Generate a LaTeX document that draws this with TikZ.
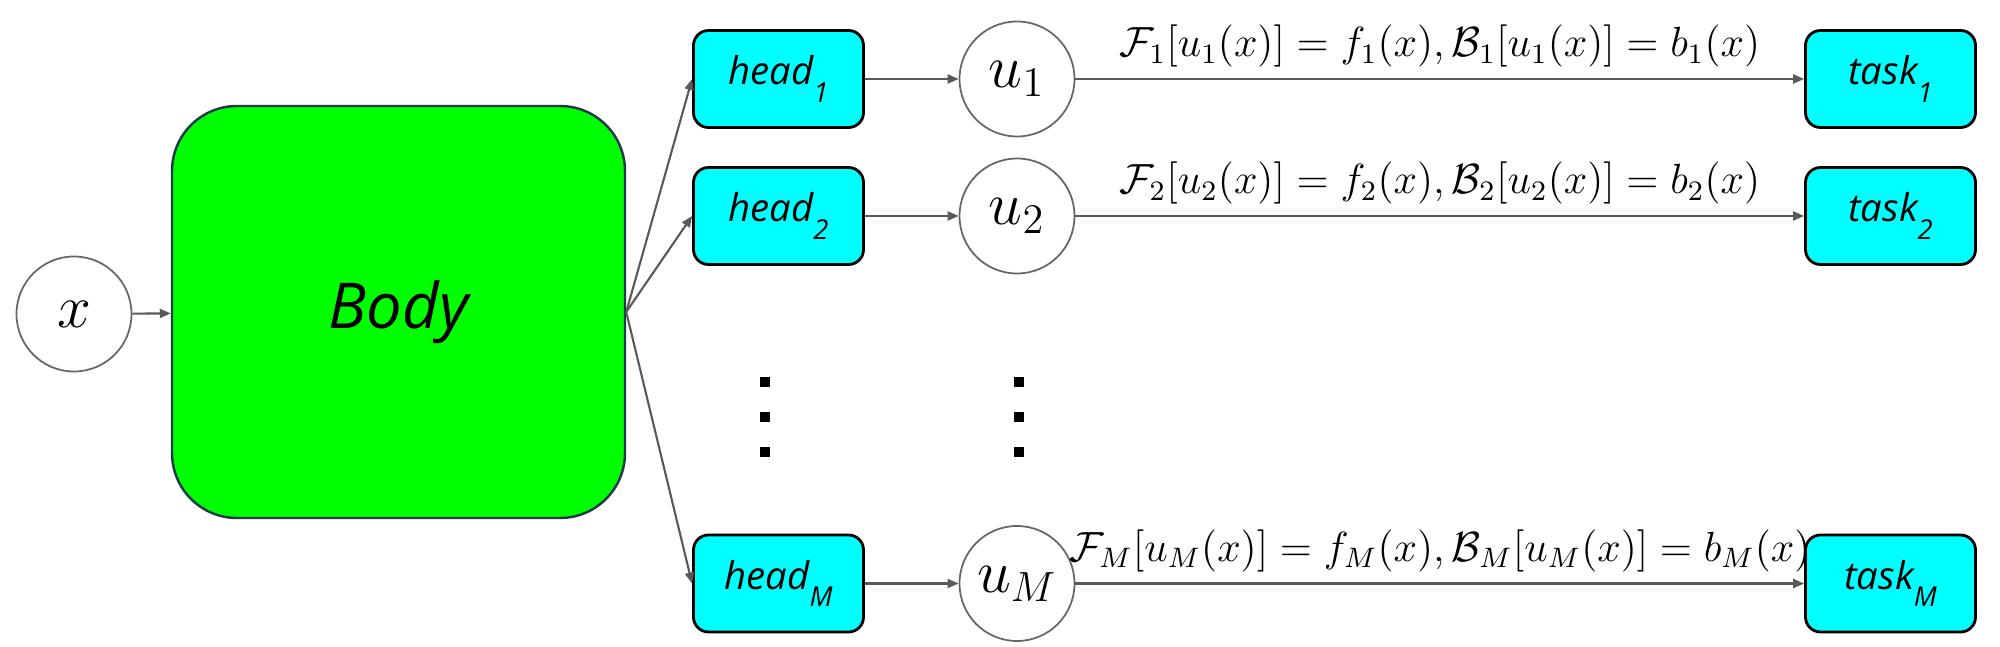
\documentclass[tikz,border=0pt]{standalone}
\usepackage{fontspec}
\setsansfont{Open Sans}
\usepackage{tikz}
\usetikzlibrary{positioning,arrows.meta}
\definecolor{bodygreen}{HTML}{00FF00}
\definecolor{headcyan}{HTML}{00FFFF}
\definecolor{bodyline}{HTML}{1F3A4D}
\definecolor{arrgray}{HTML}{595959}
\newcommand{\lowidx}[1]{\raisebox{-0.45em}{\fontsize{7.8}{9}\selectfont #1}}

\begin{document}
\begin{tikzpicture}[
  var/.style={circle, draw=black!60, line width=0.5pt, minimum size=1.15cm, inner sep=0pt, font=\fontsize{17}{20}\selectfont},
  blk/.style={draw=black, line width=0.8pt, rounded corners=0.15cm, fill=headcyan, minimum width=1.7cm, minimum height=0.97cm, font=\sffamily\itshape\fontsize{10.9}{12}\selectfont},
  arr/.style={-{Triangle[length=0.11cm,width=0.09cm]}, line width=0.6pt, arrgray},
  eq/.style={font=\fontsize{11.7}{14}\selectfont, text=black, inner sep=2pt, yshift=1pt}]
\useasboundingbox (0,0) rectangle (20,-6.47);
\node[var] (xin) at (0.74,-3.14) {$x$};
\node[draw=bodyline, line width=0.7pt, fill=bodygreen, rounded corners=0.65cm, minimum width=4.53cm, minimum height=4.12cm,
  font=\sffamily\itshape\fontsize{18}{21}\selectfont] (body) at (3.985,-3.12) {Body};
\draw[arr] (xin) -- (body);
% heads
\node[blk] (head1) at (7.785,-0.79) {head\lowidx{1}};
\node[blk] (head2) at (7.785,-2.16) {head\lowidx{2}};
\node[blk] (headM) at (7.785,-5.835) {head\lowidx{M}};
\draw[arr] (body.east) -- (head1.west);
\draw[arr] (body.east) -- (head2.west);
\draw[arr] (body.east) -- (headM.west);
% outputs
\node[var] (u1) at (10.17,-0.79) {$u_1$};
\node[var] (u2) at (10.17,-2.16) {$u_2$};
\node[var] (uM) at (10.17,-5.835) {$u_M$};
\draw[arr] (head1) -- (u1);
\draw[arr] (head2) -- (u2);
\draw[arr] (headM) -- (uM);
% tasks
\node[blk] (task1) at (18.905,-0.79) {task\lowidx{1}};
\node[blk] (task2) at (18.905,-2.16) {task\lowidx{2}};
\node[blk] (taskM) at (18.905,-5.835) {task\lowidx{M}};
\draw[arr] (u1) -- node[eq, above] {$\mathcal{F}_1[u_1(x)] = f_1(x), \mathcal{B}_1[u_1(x)] = b_1(x)$} (task1);
\draw[arr] (u2) -- node[eq, above] {$\mathcal{F}_2[u_2(x)] = f_2(x), \mathcal{B}_2[u_2(x)] = b_2(x)$} (task2);
\draw[arr] (uM) -- node[eq, above] {$\mathcal{F}_M[u_M(x)] = f_M(x), \mathcal{B}_M[u_M(x)] = b_M(x)$} (taskM);
% vertical dots
\foreach \yy in {3.77,4.12,4.47} {
  \fill (7.60,-\yy) rectangle ++(0.1,-0.1);
  \fill (10.14,-\yy) rectangle ++(0.1,-0.1);
}
\end{tikzpicture}
\end{document}
